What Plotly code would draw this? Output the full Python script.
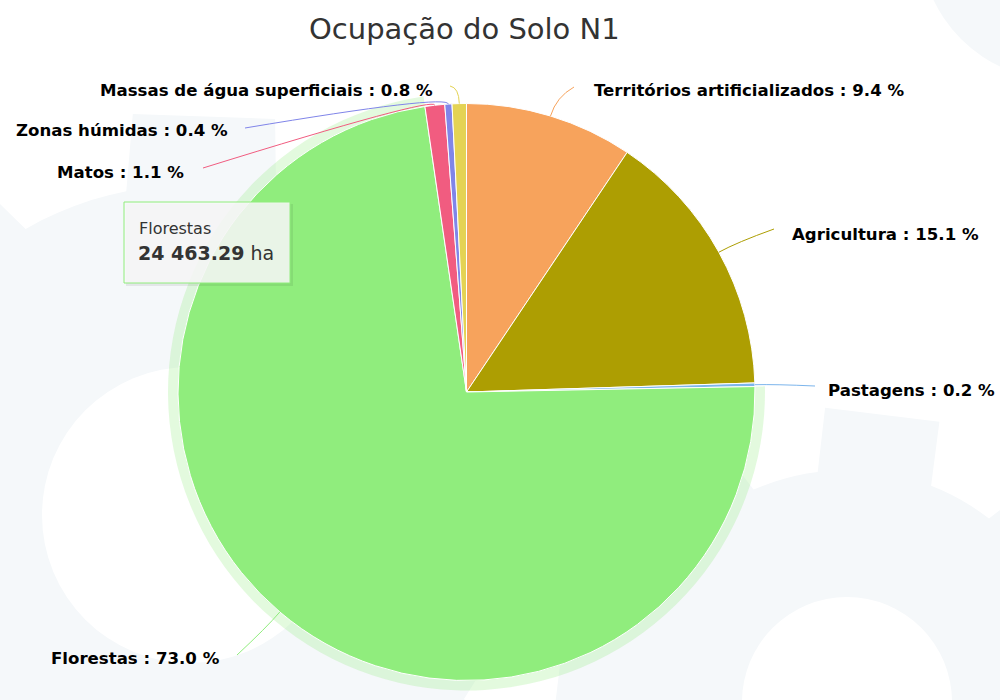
import math
import plotly.graph_objects as go

# ---------------- data ----------------
categories = [
    "Territórios artificializados",
    "Agricultura",
    "Pastagens",
    "Florestas",
    "Matos",
    "Zonas húmidas",
    "Massas de água superficiais",
]
area_ha = [3150.0, 5060.0, 67.0, 24463.29, 369.0, 134.0, 268.0]
slice_colors = ["#F7A35C", "#AD9E02", "#7CB5EC", "#90ED7D", "#F15C80", "#8085E9", "#E4D354"]
title_text = "Ocupação do Solo N1"
hovered = "Florestas"
unit = "ha"

# ---------------- layout constants (pixels) ----------------
W, H = 1000, 700
CX, CY, R = 466.5, 392.0, 288.5
HALO = 10

# label placement: connector end point, text anchor side, text position
label_layout = {
    "Territórios artificializados": dict(end=(574, 87), side="left", tx=592, ty=90, ext=20),
    "Agricultura": dict(end=(774, 229), side="left", tx=790, ty=234, ext=20),
    "Pastagens": dict(end=(815, 386), side="right", tx=997, ty=390, ext=20),
    "Florestas": dict(end=(237, 655), side="right", tx=222, ty=658, ext=20),
    "Matos": dict(end=(203, 168), side="right", tx=186, ty=172, ext=9),
    "Zonas húmidas": dict(end=(245, 128), side="right", tx=230, ty=130, ext=10),
    "Massas de água superficiais": dict(end=(450, 86), side="right", tx=435, ty=90, ext=16),
}

FONT = "DejaVu Sans"
GEAR = "#F5F8FA"


def px_dom_x(a, b):
    return [a / W, b / W]


def px_dom_y(top, bottom):
    return [1 - bottom / H, 1 - top / H]


def gear_path(cx, cy, r_body, r_tooth, n, tooth_frac, phase_deg):
    pts = []
    step = 360.0 / n
    half = step * tooth_frac / 2
    for i in range(n):
        c = phase_deg + i * step
        seq = [
            (c - half - 3, r_body),
            (c - half, r_tooth),
            (c + half, r_tooth),
            (c + half + 3, r_body),
        ]
        nxt = c + step - half - 3
        a0 = c + half + 3
        for k in range(1, 6):
            seq.append((a0 + (nxt - a0) * k / 6, r_body))
        for ang, rr in seq:
            t = math.radians(ang)
            pts.append((cx + rr * math.sin(t), cy - rr * math.cos(t)))
    return "M " + " L ".join(f"{x:.1f},{y:.1f}" for x, y in pts) + " Z"


fig = go.Figure()

# halo behind the hovered slice
halo_colors = ["rgba(144,237,125,0.25)" if c == hovered else "rgba(0,0,0,0)" for c in categories]
fig.add_trace(go.Pie(
    labels=categories, values=area_ha, sort=False, direction="clockwise", rotation=0,
    marker=dict(colors=halo_colors, line=dict(width=0)),
    textinfo="none", hoverinfo="skip", showlegend=False,
    domain=dict(x=px_dom_x(CX - R - HALO, CX + R + HALO), y=px_dom_y(CY - R - HALO, CY + R + HALO)),
))

# main pie
fig.add_trace(go.Pie(
    labels=categories, values=area_ha, sort=False, direction="clockwise", rotation=0,
    marker=dict(colors=slice_colors, line=dict(color="#FFFFFF", width=1)),
    textinfo="none", hovertemplate="%{label}<br>%{value:,.2f} ha<extra></extra>",
    showlegend=False,
    domain=dict(x=px_dom_x(CX - R, CX + R), y=px_dom_y(CY - R, CY + R)),
))

shapes = []
# background gears
shapes.append(dict(type="path", path=gear_path(190, 515, 330, 405, 8, 0.45, 2), fillcolor=GEAR,
                   line=dict(width=0), xref="x", yref="y", layer="below"))
shapes.append(dict(type="circle", x0=190 - 148, x1=190 + 148, y0=515 - 148, y1=515 + 148,
                   fillcolor="#FFFFFF", line=dict(width=0), xref="x", yref="y", layer="below"))
shapes.append(dict(type="path", path=gear_path(847, 702, 232, 295, 8, 0.5, 7), fillcolor=GEAR,
                   line=dict(width=0), xref="x", yref="y", layer="below"))
shapes.append(dict(type="circle", x0=847 - 105, x1=847 + 105, y0=702 - 105, y1=702 + 105,
                   fillcolor="#FFFFFF", line=dict(width=0), xref="x", yref="y", layer="below"))
shapes.append(dict(type="circle", x0=1060 - 140, x1=1060 + 140, y0=-60 - 140, y1=-60 + 140,
                   fillcolor=GEAR, line=dict(width=0), xref="x", yref="y", layer="below"))

annotations = []
total = sum(area_ha)
cum = 0.0
for name, val, col in zip(categories, area_ha, slice_colors):
    mid = (cum + val / 2) / total
    cum += val
    ang = 2 * math.pi * mid
    lay = label_layout[name]
    ex, ey = CX + R * math.sin(ang), CY - R * math.cos(ang)
    rr = R + lay["ext"]
    qx, qy = CX + rr * math.sin(ang), CY - rr * math.cos(ang)
    x2, y2 = lay["end"]
    shapes.append(dict(type="path", path=f"M {ex:.1f},{ey:.1f} Q {qx:.1f},{qy:.1f} {x2},{y2}",
                       line=dict(color=col, width=1), xref="x", yref="y", layer="above"))
    pct = 100 * val / total
    annotations.append(dict(
        x=lay["tx"], y=lay["ty"], xref="x", yref="y", showarrow=False,
        xanchor="left" if lay["side"] == "left" else "right", yanchor="middle",
        text=f"<b>{name} : {pct:.1f} %</b>", font=dict(family=FONT, size=16.6, color="#000000"),
    ))

# title
annotations.append(dict(x=464, y=29, xref="x", yref="y", showarrow=False, xanchor="center", yanchor="middle",
                        text=title_text, font=dict(family=FONT, size=29, color="#333333")))

# tooltip for hovered slice
hv = area_ha[categories.index(hovered)]
hcol = slice_colors[categories.index(hovered)]
shapes.append(dict(type="rect", x0=126, y0=204, x1=293, y1=286, fillcolor="rgba(0,0,0,0.07)",
                   line=dict(width=0), xref="x", yref="y", layer="above"))
shapes.append(dict(type="rect", x0=124, y0=202, x1=290, y1=283, fillcolor="rgba(247,247,247,0.88)",
                   line=dict(color=hcol, width=1), xref="x", yref="y", layer="above"))
val_txt = f"{hv:,.2f}".replace(",", " ")
annotations.append(dict(x=137, y=228, xref="x", yref="y", showarrow=False, xanchor="left", yanchor="middle",
                        text=hovered, font=dict(family=FONT, size=16, color="#333333")))
annotations.append(dict(x=136, y=253, xref="x", yref="y", showarrow=False, xanchor="left", yanchor="middle",
                        text=f"<b>{val_txt}</b> {unit}", font=dict(family=FONT, size=19, color="#333333")))

fig.update_layout(
    width=W, height=H, margin=dict(l=0, r=0, t=0, b=0),
    paper_bgcolor="#FFFFFF", plot_bgcolor="rgba(0,0,0,0)",
    xaxis=dict(range=[0, W], visible=False, fixedrange=True, domain=[0, 1]),
    yaxis=dict(range=[H, 0], visible=False, fixedrange=True, domain=[0, 1]),
    shapes=shapes, annotations=annotations, showlegend=False,
)

fig.write_html(
    "out.html",
    config={"displayModeBar": False},
    post_script="document.body.style.margin='0';document.body.style.overflow='hidden';",
)
